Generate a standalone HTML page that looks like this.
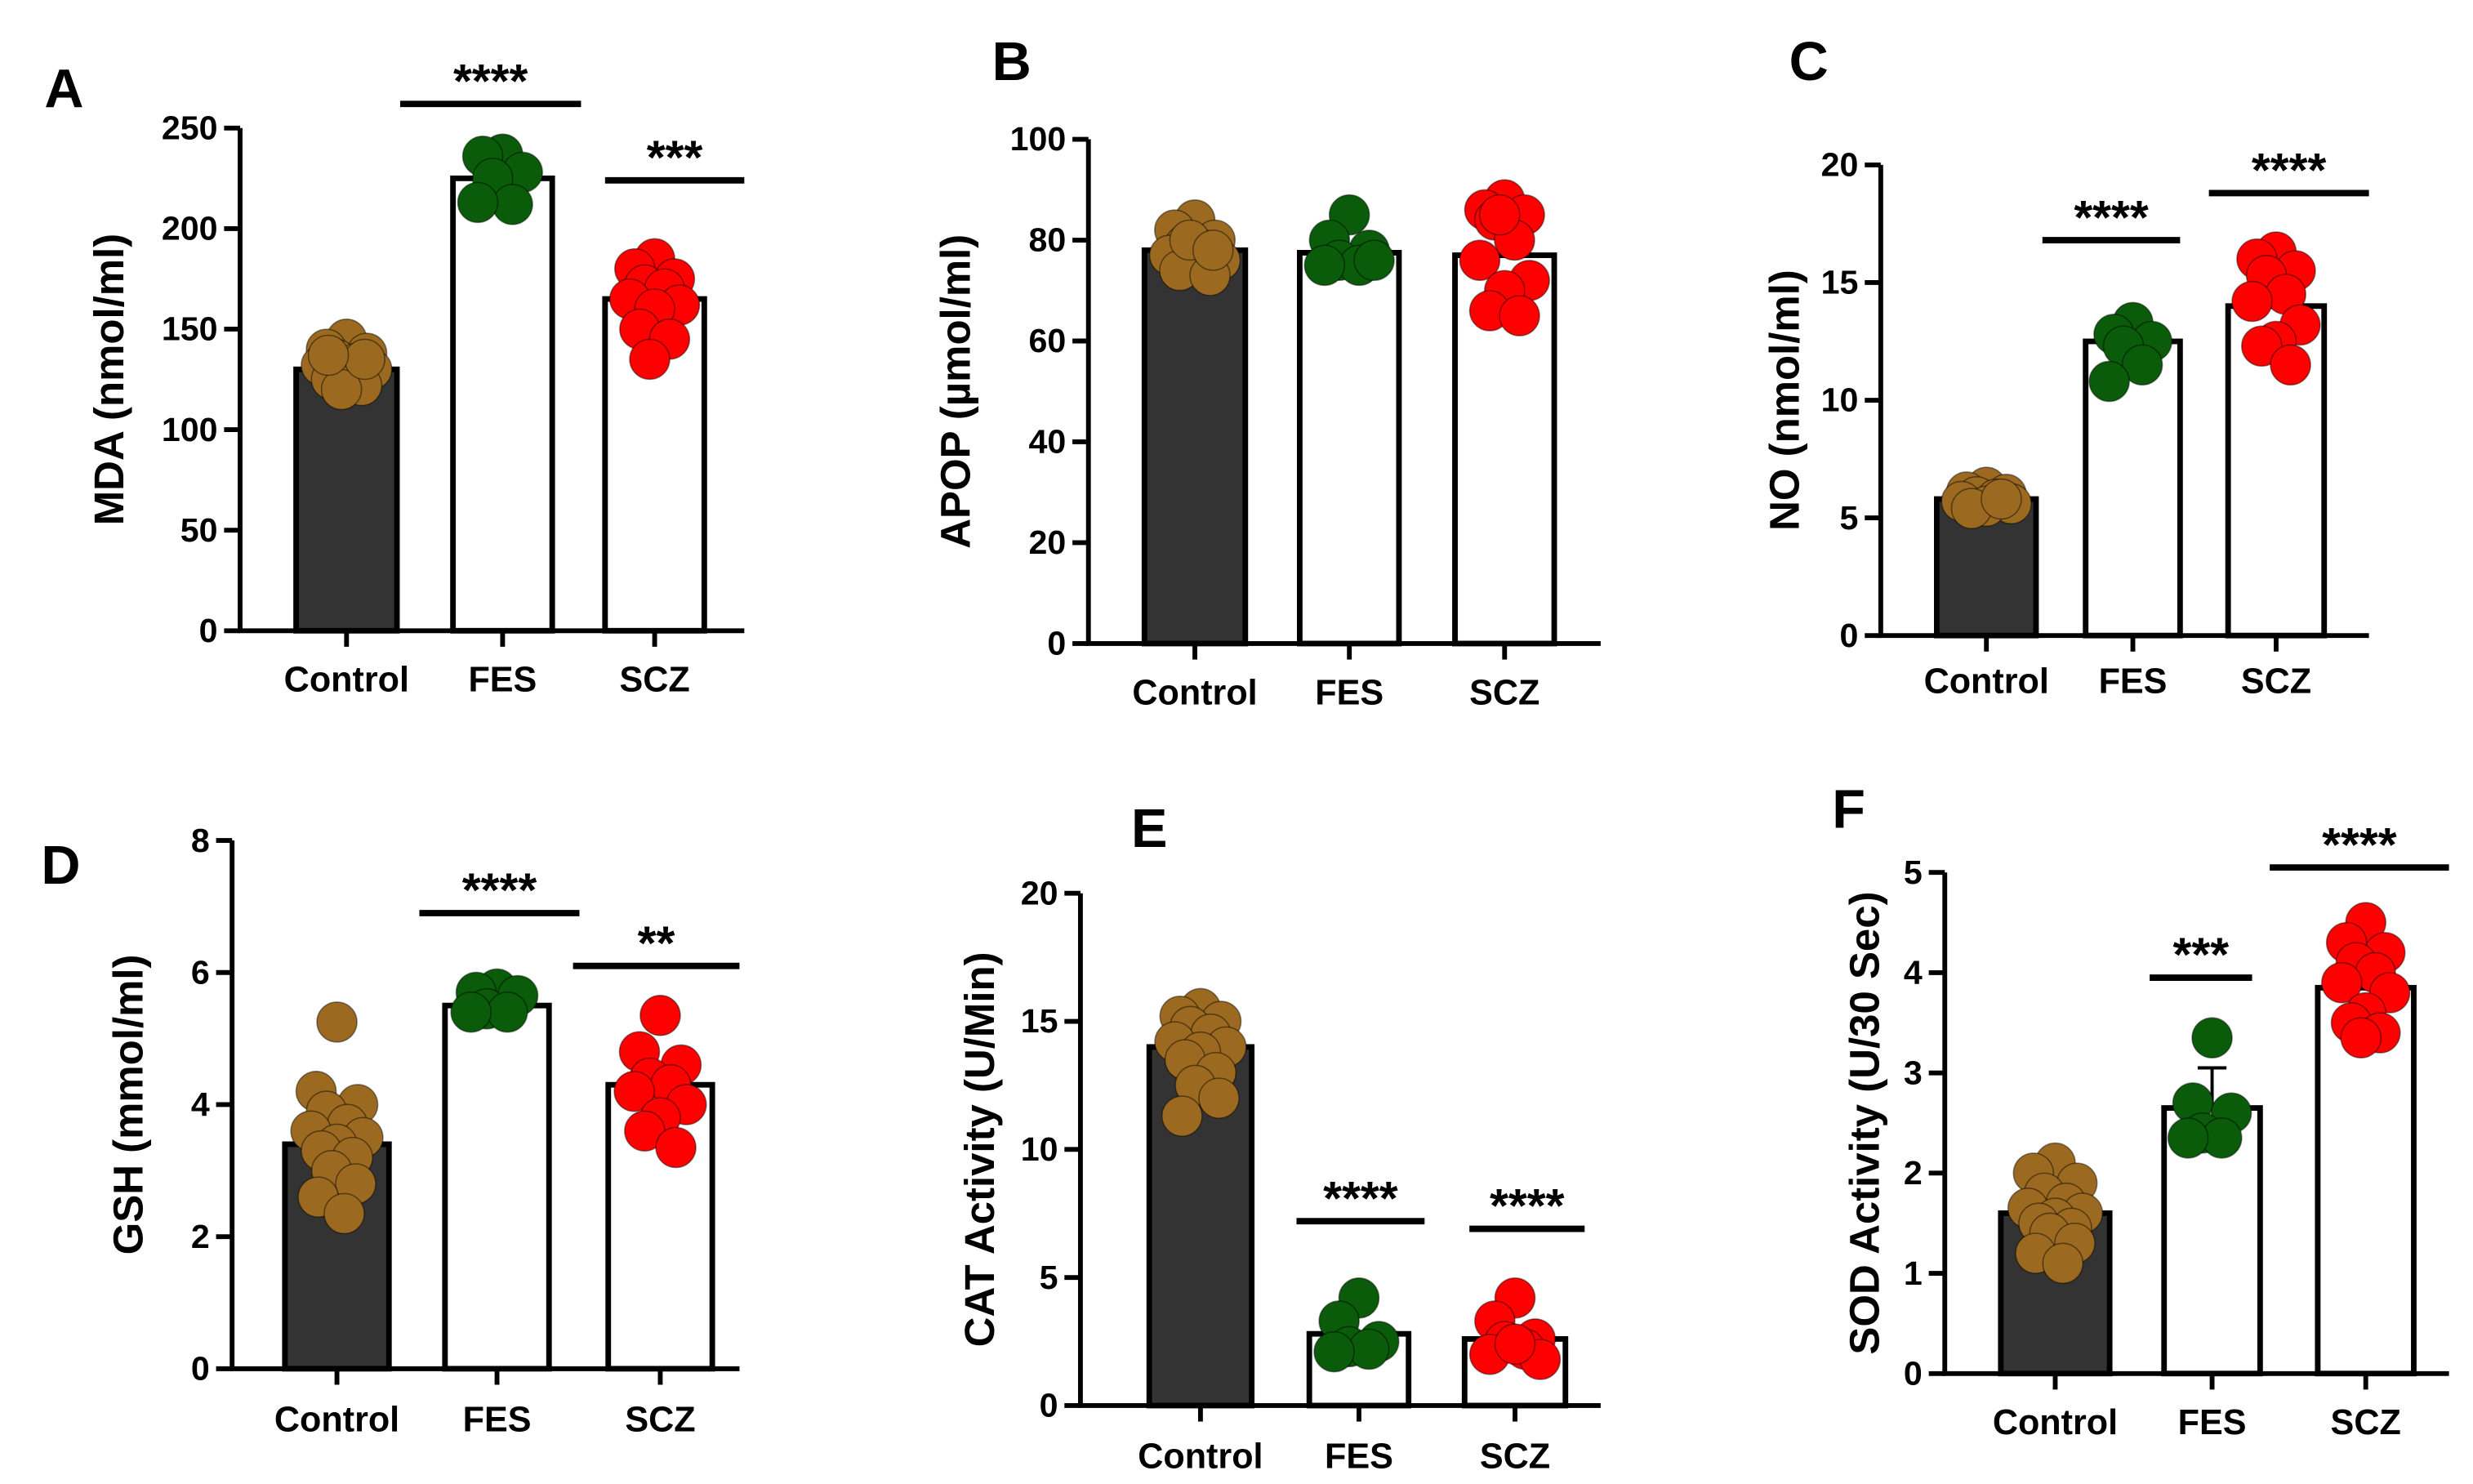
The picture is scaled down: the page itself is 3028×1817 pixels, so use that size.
<!DOCTYPE html>
<html><head><meta charset="utf-8"><style>
html,body{margin:0;padding:0;background:#fff;}
svg{display:block;}
text{font-family:"Liberation Sans",Arial,sans-serif;font-weight:bold;fill:#000;}
</style></head><body>
<svg id="fig" width="3028" height="1817" viewBox="0 0 1545 927" preserveAspectRatio="none" xmlns="http://www.w3.org/2000/svg"></svg>
<script>
const categories = ["Control","FES","SCZ"];
const panelLetters = ["A","B","C","D","E","F"];
const yTitles = ["MDA (nmol/ml)","APOP (µmol/ml)","NO (nmol/ml)","GSH (mmol/ml)","CAT Activity (U/Min)","SOD Activity (U/30 Sec)"];
const yMaxes = [250,100,20,8,20,5];
const yTickLabels = [[0,50,100,150,200,250],[0,20,40,60,80,100],[0,5,10,15,20],[0,2,4,6,8],[0,5,10,15,20],[0,1,2,3,4,5]];
const meansA = [130,225,165];
const meansB = [78,77.5,77];
const meansC = [5.8,12.5,14];
const meansD = [3.4,5.5,4.3];
const meansE = [14,2.8,2.6];
const meansF = [1.6,2.65,3.85];
const errF = [0.05,0.4,0.1];
const ptsA = [[145,140,138,135,133,132,130,128,125,122,120,135,137],[237,236,228,225,212,213],[185,180,175,172,170,165,162,160,150,145,135]];
const ptsB = [[84,82,80,79,78,77,76,75,74,73,80,78],[85,80,78,76,75,75,76],[88,86,85,84,80,76,72,70,66,65,85]];
const ptsC = [[6.3,6.1,6.0,5.9,5.8,5.7,5.6,5.5,5.4,5.8],[13.3,12.8,12.5,12.3,11.5,10.8],[16.3,16.0,15.5,15.3,14.5,14.2,13.2,12.5,12.3,11.5]];
const ptsD = [[5.25,4.2,4.0,3.9,3.7,3.6,3.5,3.4,3.3,3.2,3.0,2.8,2.6,2.35],[5.75,5.7,5.65,5.45,5.4,5.4],[5.35,4.8,4.6,4.4,4.3,4.2,4.0,3.8,3.6,3.35]];
const ptsE = [[15.5,15.2,15,14.8,14.5,14.2,14,13.8,13.5,13,12.5,12,11.3],[4.2,3.3,2.5,2.3,2.2,2.1],[4.2,3.3,2.6,2.5,2.2,2.0,1.8,2.4]];
const ptsF = [[2.1,2.0,1.9,1.8,1.7,1.65,1.6,1.55,1.5,1.45,1.4,1.3,1.2,1.1],[3.35,2.7,2.6,2.4,2.35,2.35],[4.5,4.3,4.2,4.1,4.0,3.9,3.8,3.6,3.5,3.4,3.35]];
const sigLabels = [["****","***"],[],["****","****"],["****","**"],["****","****"],["***","****"]];
const sigValues = [[262,224],[],[16.8,18.8],[6.9,6.1],[7.2,6.9],[3.95,5.05]];

const means=[meansA,meansB,meansC,meansD,meansE,meansF];
const pts=[ptsA,ptsB,ptsC,ptsD,ptsE,ptsF];
const L=[
 {ax:150,top:80,bot:394,end:465,bars:[[185,248],[283,345],[378,440]],lab:424,let:[40,55],tx:68,sig:[[250,363],[378,465]]},
 {ax:680,top:87,bot:402,end:1000,bars:[[715,778],[812,874],[909,971]],lab:432,let:[632,38],tx:597,sig:[]},
 {ax:1175,top:103,bot:397,end:1480,bars:[[1210,1272],[1303,1362],[1392,1452]],lab:425,let:[1130,38],tx:1115,sig:[[1276,1362],[1380,1480]]},
 {ax:145,top:525,bot:855,end:462,bars:[[178,243],[278,343],[380,445]],lab:886,let:[38,540],tx:80,sig:[[262,362],[358,462]]},
 {ax:675,top:558,bot:878,end:1000,bars:[[718,782],[818,880],[915,978]],lab:909,let:[718,517],tx:612,sig:[[810,890],[918,990]]},
 {ax:1215,top:545,bot:858,end:1530,bars:[[1250,1318],[1352,1412],[1448,1508]],lab:888,let:[1155,505],tx:1165,sig:[[1343,1407],[1418,1530]]}
];
const colors=["#9b6a20","#0a5c0a","#ff0000"];
const svg=document.getElementById('fig');
const NS="http://www.w3.org/2000/svg";
function mk(tag,attrs,parent){const e=document.createElementNS(NS,tag);for(const k in attrs)e.setAttribute(k,attrs[k]);(parent||svg).appendChild(e);return e;}
const jit=[0,-0.2,0.2,-0.1,0.1,-0.25,0.25,0,-0.15,0.15,-0.05,0.18,-0.18,0.07];
L.forEach((p,i)=>{
  const g=mk('g',{});
  
  
  const y=v=>p.bot-(v/yMaxes[i])*(p.bot-p.top);
  const lt=mk('text',{x:p.let[0],y:p.let[1]+12,'font-size':34,'text-anchor':'middle'},g);lt.textContent=panelLetters[i];
  
  
  const cy=(p.top+p.bot)/2;
  const tt=mk('text',{x:p.tx,y:cy,'font-size':26,'text-anchor':'middle',transform:`rotate(-90 ${p.tx} ${cy})`,'dominant-baseline':'central'},g);tt.textContent=yTitles[i];
  
  
  p.bars.forEach((b,c)=>{
    const r=mk('rect',{x:b[0],y:y(means[i][c]),width:b[1]-b[0],height:p.bot-y(means[i][c]),fill:c==0?'#333':'#fff',stroke:'#000','stroke-width':3.5},g);
    
    
  });
  if(i==5){const b=p.bars[1],cx=(b[0]+b[1])/2;mk('path',{d:`M${cx} ${y(means[i][1])}V${y(means[i][1]+errF[1])}M${cx-9} ${y(means[i][1]+errF[1])}H${cx+9}`,stroke:'#000','stroke-width':2,fill:'none'},g);}
  pts[i].forEach((arr,c)=>{
    const b=p.bars[c],cx=(b[0]+b[1])/2,w=b[1]-b[0];
    arr.forEach((v,k)=>{
      const ci=mk('circle',{cx:cx+jit[k%jit.length]*w,cy:y(v),r:12.5,fill:colors[c],stroke:'rgba(0,0,0,0.45)','stroke-width':0.8},g);
      
      
    });
  });
  mk('path',{d:`M${p.ax} ${p.top}V${p.bot}H${p.end}`,stroke:'#000','stroke-width':3,fill:'none'},g);
  yTickLabels[i].forEach(t=>{
    mk('line',{x1:p.ax-10,x2:p.ax,y1:y(t),y2:y(t),stroke:'#000','stroke-width':3},g);
    const tx=mk('text',{x:p.ax-14,y:y(t)+7,'font-size':21,'text-anchor':'end'},g);tx.textContent=t;
    
    
  });
  categories.forEach((c,k)=>{
    const b=p.bars[k],cx=(b[0]+b[1])/2;
    mk('line',{x1:cx,x2:cx,y1:p.bot,y2:p.bot+10,stroke:'#000','stroke-width':3},g);
    const tx=mk('text',{x:cx,y:p.lab+8,'font-size':22,'text-anchor':'middle'},g);tx.textContent=c;
    
    
  });
  p.sig.forEach((s,k)=>{
    const sy=y(sigValues[i][k]);
    mk('line',{x1:s[0],x2:s[1],y1:sy,y2:sy,stroke:'#000','stroke-width':4},g);
    const st=mk('text',{x:(s[0]+s[1])/2,y:sy-4,'font-size':30,'text-anchor':'middle'},g);st.textContent=sigLabels[i][k];
    
    
  });
});
</script>
</body></html>
